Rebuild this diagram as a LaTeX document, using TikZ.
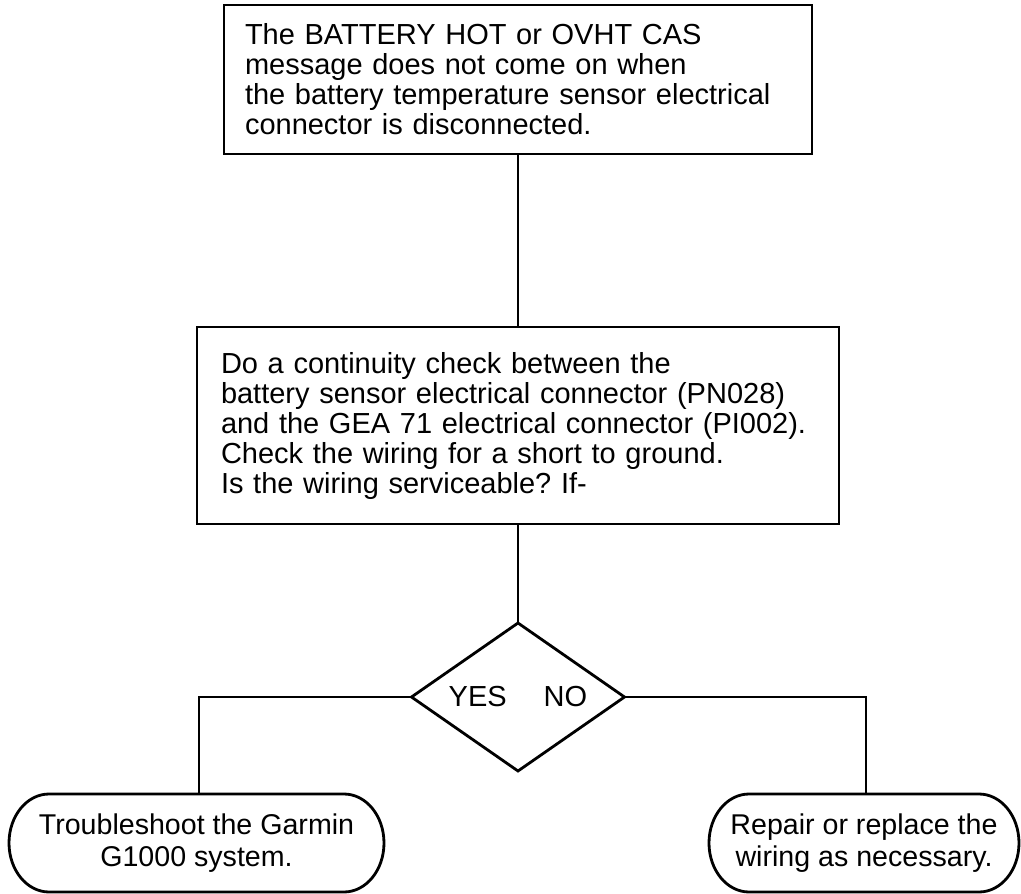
\documentclass[tikz,border=0pt]{standalone}
\usepackage{fontspec}
\setmainfont{Liberation Sans}
\frenchspacing
\usetikzlibrary{shapes.geometric,calc}
\begin{document}
\begin{tikzpicture}[x=1pt,y=-1pt,
  line width=2.8pt,
  txt/.style={font=\fontsize{29}{30}\selectfont},
  procbox/.style={draw, rectangle, align=left, inner ysep=0pt, outer sep=0pt, txt},
  decide/.style={draw, diamond, aspect=1.44, minimum width=213pt, minimum height=148pt, inner sep=0pt, outer sep=0pt, txt},
  endbox/.style={rectangle, align=center, inner sep=0pt, outer sep=0pt, minimum height=98pt, font=\fontsize{28.6}{31.5}\selectfont},
  outline/.style={line width=2.8pt}]
\useasboundingbox (0,0) rectangle (1021,894);

\node[procbox, text width=546pt, inner xsep=21pt, minimum height=149pt] (top) at (518,79.5)
  {The BATTERY HOT or OVHT CAS\\message does not come on when\\the battery temperature sensor electrical\\connector is disconnected.};

\node[procbox, text width=594pt, inner xsep=24pt, minimum height=197pt] (mid) at (518,425.5)
  {Do a continuity check between the\\battery sensor electrical connector (PN028)\\and the GEA 71 electrical connector (PI002).\\Check the wiring for a short to ground.\\Is the wiring serviceable? If-};

\node[decide] (dec) at (518,697) {YES\hspace{37pt}NO};

\node[endbox, minimum width=375pt] (left) at (196.5,843) {Troubleshoot the Garmin\\G1000 system.};
\node[endbox, minimum width=310pt] (right) at (864,843) {Repair or replace the\\wiring as necessary.};

\draw[outline] ([xshift=-40pt]left.north east) arc[start angle=90,end angle=-90,x radius=40pt,y radius=49pt]
  -- ([xshift=40pt]left.south west) arc[start angle=270,end angle=90,x radius=40pt,y radius=49pt] -- cycle;
\draw[outline] ([xshift=-40pt]right.north east) arc[start angle=90,end angle=-90,x radius=40pt,y radius=49pt]
  -- ([xshift=40pt]right.south west) arc[start angle=270,end angle=90,x radius=40pt,y radius=49pt] -- cycle;

\draw (top.south) -- (mid.north);
\draw (mid.south) -- (dec.north);
\draw (dec.west) -| ([xshift=2.5pt]left.north);
\draw (dec.east) -| ([xshift=2pt]right.north);
\end{tikzpicture}
\end{document}
